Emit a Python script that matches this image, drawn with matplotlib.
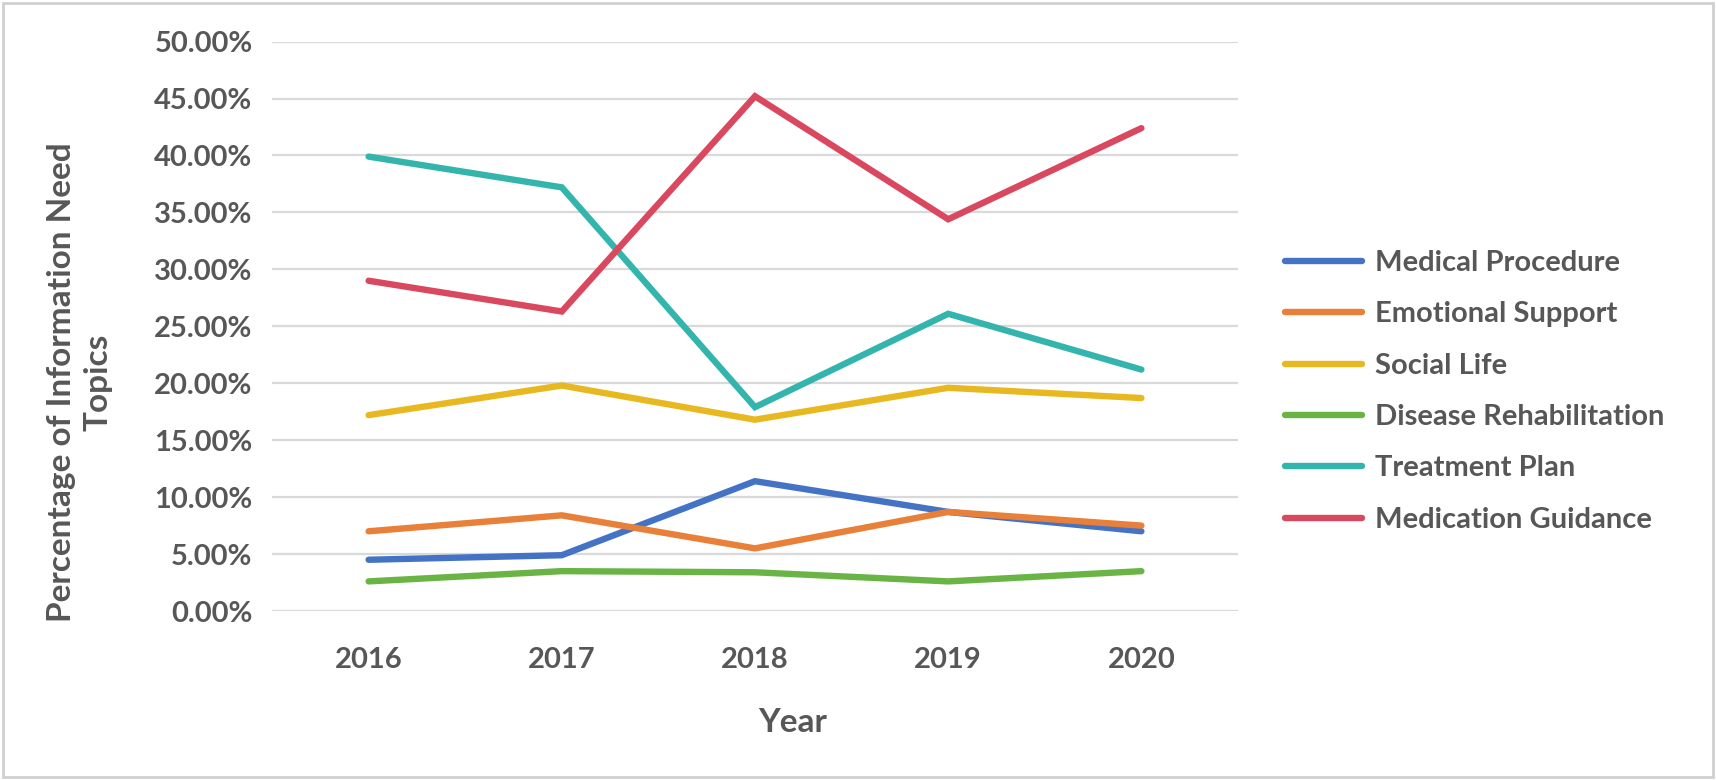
import matplotlib
matplotlib.use("Agg")
import matplotlib.pyplot as plt
from matplotlib.patches import Rectangle
from matplotlib.ticker import FuncFormatter

years = ["2016", "2017", "2018", "2019", "2020"]
series_names = ["Medical Procedure", "Emotional Support", "Social Life",
                "Disease Rehabilitation", "Treatment Plan", "Medication Guidance"]
medical_procedure = [4.5, 4.9, 11.4, 8.7, 7.0]
emotional_support = [7.0, 8.4, 5.5, 8.7, 7.5]
social_life = [17.2, 19.8, 16.8, 19.6, 18.7]
disease_rehab = [2.6, 3.5, 3.4, 2.6, 3.5]
treatment_plan = [39.9, 37.2, 17.9, 26.1, 21.2]
medication_guidance = [29.0, 26.3, 45.2, 34.4, 42.4]
colors = ["#4472C4", "#E8803A", "#E8B820", "#6AB446", "#33B5AE", "#D9485F"]

all_series = [medical_procedure, emotional_support, social_life,
              disease_rehab, treatment_plan, medication_guidance]

W, H = 1716, 780
fig = plt.figure(figsize=(W / 100, H / 100), dpi=100)
text_color = "#575757"
font = "Lato"
fs = 21

left, right = 272, 1238
top, bottom = 41.6, 611
ax = fig.add_axes([left / W, (H - bottom) / H, (right - left) / W, (bottom - top) / H])

x = list(range(len(years)))
for vals, name, c in zip(all_series, series_names, colors):
    ax.plot(x, [v / 100 for v in vals], color=c, lw=4.6, label=name,
            solid_capstyle="round", solid_joinstyle="miter", zorder=3)

ax.set_xlim(-0.5, len(years) - 0.5)
ax.set_ylim(0, 0.5)
ax.set_yticks([i * 0.05 for i in range(11)])
ax.yaxis.set_major_formatter(FuncFormatter(lambda v, p: f"{v*100:.2f}%"))
ax.set_xticks(x)
ax.set_xticklabels(years)
ax.grid(axis="y", color="#D9D9D9", lw=1.6, zorder=0)
for s in ax.spines.values():
    s.set_visible(False)
ax.tick_params(length=0, labelsize=fs, labelcolor=text_color)
ax.tick_params(axis="y", pad=14)
ax.tick_params(axis="x", pad=26)
for lab in ax.get_xticklabels() + ax.get_yticklabels():
    lab.set_fontfamily(font)
    lab.set_fontweight("bold")

fig.text(793 / W, 1 - 722 / H, "Year", ha="center", va="center",
         fontsize=24, fontweight="bold", color=text_color, family=font)
fig.text(80 / W, 1 - 382 / H, "Percentage of Information Need\nTopics", ha="center",
         va="center", rotation=90, fontsize=24, fontweight="bold", color=text_color,
         family=font, linespacing=1.3)

leg = fig.legend(loc="upper left", bbox_to_anchor=(1285 / W, 1 - 250 / H),
                 frameon=False, handlelength=2.64, handletextpad=0.45,
                 labelspacing=0.87, borderpad=0, borderaxespad=0,
                 prop={"family": font, "weight": "bold", "size": fs})
for t in leg.get_texts():
    t.set_color(text_color)

fig.patches.append(Rectangle((3 / W, 3 / H), (W - 6) / W, (H - 6) / H,
                             transform=fig.transFigure, fill=False,
                             edgecolor="#D0D0D0", lw=2))

fig.savefig("out.png", dpi=100)
